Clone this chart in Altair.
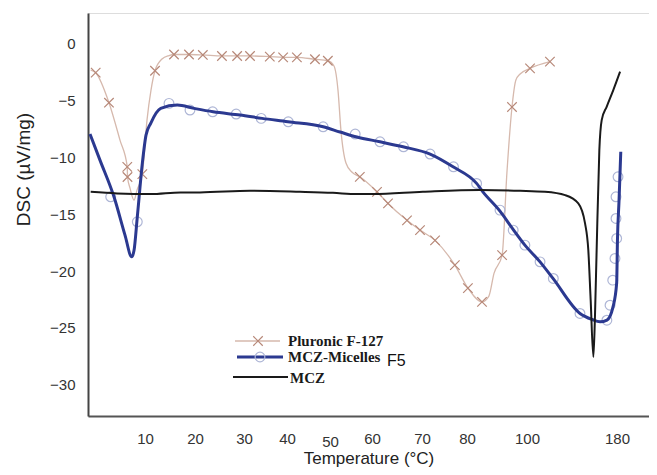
import altair as alt
import pandas as pd

# ---------------- data ----------------
# Pluronic F-127 curve (temperature, DSC) and which points carry a marker
plur_T = [0.47, 1.35, 3.68, 5.61, 6.89, 6.93, 7.37, 8.07, 8.6, 9.53, 10.4, 11.2, 12.0, 13.4, 14.8,
          15.8, 18.8, 21.6, 25.5, 28.6, 31.4, 36.0, 39.1, 42.3, 46.5, 49.5, 50.95, 51.9, 52.6,
          53.8, 55.2, 57.1, 61.0, 63.2, 67.0, 69.6, 72.9, 77.3, 80.3, 85.0, 87.3, 89.0, 91.7,
          93.3, 95.0, 96.3, 97.7, 102.7, 120.4]
plur_v = [-2.32, -2.55, -5.19, -8.48, -10.83, -11.73, -12.70, -13.76, -12.88, -11.47, -6.72,
          -4.08, -2.38, -1.35, -1.04, -0.95, -0.95, -0.99, -1.08, -1.08, -1.08, -1.14, -1.20,
          -1.20, -1.37, -1.50, -1.96, -4.08, -7.6, -10.5, -11.29, -11.71, -13.03, -14.05,
          -15.54, -16.4, -17.3, -19.48, -21.5, -22.71, -22.2, -20.2, -18.6, -11.38, -5.57,
          -3.2, -2.67, -2.17, -1.58]
plur_mark = [0, 1, 1, 0, 1, 1, 0, 0, 0, 1, 0, 0, 1, 0, 0, 1, 1, 1, 1, 1, 1, 1, 1, 1, 1, 1, 0, 0, 0,
             0, 0, 1, 1, 1, 1, 1, 1, 1, 1, 1, 0, 0, 1, 0, 1, 0, 0, 1, 1]

# MCZ-Micelles F5 curve
mic_T = [0.35, 2.1, 4.56, 6.49, 7.67, 8.07, 8.65, 9.53, 10.2, 11.14, 13.14, 16.46, 19.8, 23.7,
         29.2, 34.2, 40.2, 48.4, 52.4, 56.4, 61.6, 66.2, 71.8, 76.9, 83.2, 85.3, 91.0, 95.3,
         99.3, 111.6, 123.1, 147.1, 157.8, 164.9, 171.1, 176.4, 179.7, 180.4, 181.8, 183.3]
mic_v = [-7.95, -10.24, -13.47, -16.84, -18.75, -18.2, -15.23, -10.53, -8.04, -7.0, -5.69, -5.40,
         -5.69, -5.99, -6.28, -6.57, -6.87, -7.31, -7.77, -8.21, -8.63, -9.07, -9.71, -10.83,
         -12.29, -13.03, -14.73, -16.31, -17.72, -19.19, -20.65, -23.73, -24.26, -24.47, -24.32,
         -23.18, -21.07, -17.28, -13.76, -9.51]
# open-circle markers of the MCZ-Micelles F5 series
mic_circ_T = [3.98, 8.65, 14.8, 19.0, 23.6, 28.4, 34.0, 40.3, 48.4, 56.0, 61.6, 66.3, 71.8, 77.0,
              83.2, 91.0, 95.4, 99.3, 111.6, 123.4, 147.1, 171.0, 173.8, 176.2, 178.2, 179.7,
              179.1, 179.1, 180.9]
mic_circ_v = [-13.47, -15.67, -5.25, -5.84, -5.99, -6.19, -6.57, -6.87, -7.31, -7.95, -8.63, -9.07,
              -9.71, -10.83, -12.29, -14.64, -16.4, -17.72, -19.19, -20.65, -23.73, -24.32, -23.0,
              -20.8, -18.89, -17.13, -15.37, -13.47, -11.71]

# MCZ curve
mcz_T = [0.47, 5.09, 11.14, 17.1, 21.0, 31.4, 43.0, 50.7, 56.4, 60.2, 70.2, 84.3, 97.7, 116.0,
         133.8, 145.6, 151.6, 154.5, 156.6, 159.0, 160.4, 161.9, 164.3, 166.4, 170.8, 176.7, 182.7]
mcz_v = [-13.03, -13.17, -13.23, -13.08, -13.08, -12.94, -13.03, -13.12, -13.23, -13.23, -13.03,
         -12.88, -12.94, -13.03, -13.32, -14.05, -15.81, -18.16, -22.56, -27.55, -24.03, -18.16,
         -9.36, -6.72, -5.55, -4.08, -2.46]

x_ticks = [10, 20, 30, 40, 50, 60, 70, 80, 100, 180]
y_ticks = [-30, -25, -20, -15, -10, -5, 0]
legend_names = ["Pluronic F-127", "MCZ-Micelles", "F5", "MCZ"]

# ---------------- layout / style ----------------
W, H = 561, 403
# the printed temperature axis is not evenly spaced: piecewise-linear scale
x_scale = alt.Scale(domain=[0, 10, 20, 30, 40, 50, 60, 70, 80, 100, 180, 208],
                    range=[0, 57, 107, 156, 199, 242, 284, 334, 379, 439, 529, 561],
                    nice=False, zero=False)
y_scale = alt.Scale(domain=[-32.75, 2.7], nice=False, zero=False)

C_PLUR_LINE = "#d6b9ad"
C_PLUR_MARK = "#b78878"
C_MIC_LINE = "#2b3990"
C_MIC_CIRC = "#aeb6d6"
C_MCZ = "#1a1a1a"
CROSS = "M-1,-1L1,1M-1,1L1,-1"

plur = pd.DataFrame({"T": plur_T, "v": plur_v, "m": plur_mark})
mic = pd.DataFrame({"T": mic_T, "v": mic_v})
micc = pd.DataFrame({"T": mic_circ_T, "v": mic_circ_v})
mcz = pd.DataFrame({"T": mcz_T, "v": mcz_v})

x_axis = alt.Axis(values=x_ticks, grid=False, ticks=False, domain=True, domainColor="#555555",
                  domainWidth=2, labelFont="Liberation Sans", labelFontSize=15,
                  labelColor="#333333",
                  labelPadding={"condition": {"test": "datum.value == 50", "value": 18}, "value": 15},
                  labelFlush=False,
                  title="Temperature (°C)", titleFont="Liberation Sans", titleFontSize=17,
                  titleFontWeight="normal", titleColor="#222222",
                  titleY=47, titleBaseline="alphabetic")
y_axis = alt.Axis(values=y_ticks, grid=False, ticks=False, domain=True, domainColor="#444444",
                  domainWidth=2, labelFont="Liberation Sans", labelFontSize=15,
                  labelColor="#333333", labelPadding=13,
                  title="DSC (µV/mg)", titleFont="Liberation Sans", titleFontSize=19,
                  titleFontWeight="normal", titleColor="#222222",
                  titleX=-65, titleY=156, titleBaseline="middle")

X = alt.X("T:Q", scale=x_scale, axis=x_axis)
Y = alt.Y("v:Q", scale=y_scale, axis=y_axis)

plur_line = alt.Chart(plur).mark_line(color=C_PLUR_LINE, strokeWidth=1.3,
                                      interpolate="monotone").encode(x=X, y=Y)
plur_pts = alt.Chart(plur).transform_filter("datum.m == 1").mark_point(
    shape=CROSS, size=90, filled=False, color=C_PLUR_MARK, strokeWidth=1.2, opacity=1
).encode(x="T:Q", y="v:Q")
mic_circ = alt.Chart(micc).mark_point(shape="circle", size=95, filled=False, color=C_MIC_CIRC,
                                      strokeWidth=1.2, opacity=1).encode(x="T:Q", y="v:Q")
mic_line = alt.Chart(mic).mark_line(color=C_MIC_LINE, strokeWidth=3,
                                    interpolate="monotone").encode(x="T:Q", y="v:Q")
mcz_line = alt.Chart(mcz).mark_line(color=C_MCZ, strokeWidth=2,
                                    interpolate="monotone").encode(x="T:Q", y="v:Q")

# ---------------- legend (inside the plot) ----------------
one = pd.DataFrame({"k": [0]})
lg_rows = [(147, 192, 328, C_PLUR_LINE, 1.3), (149, 195, 344, C_MIC_LINE, 3), (145, 200, 364, C_MCZ, 2)]
lg_layers = []
for x1, x2, yy, col, sw in lg_rows:
    lg_layers.append(alt.Chart(one).mark_rule(color=col, strokeWidth=sw).encode(
        x=alt.value(x1), x2=alt.value(x2), y=alt.value(yy)))
lg_layers.append(alt.Chart(one).mark_point(shape=CROSS, size=90, filled=False, color=C_PLUR_MARK,
                                           strokeWidth=1.2, opacity=1).encode(
    x=alt.value(170), y=alt.value(328)))
lg_layers.append(alt.Chart(one).mark_point(shape="circle", size=95, filled=False, color=C_MIC_CIRC,
                                           strokeWidth=1.2, opacity=1).encode(
    x=alt.value(172), y=alt.value(344)))
lg_text = pd.DataFrame({"name": legend_names})
serif_kw = dict(font="Liberation Serif", fontSize=15, fontWeight="bold", color="#1a1a1a",
                align="left", baseline="middle")
lg_layers.append(alt.Chart(lg_text).transform_filter(f"datum.name == '{legend_names[0]}'")
                 .mark_text(**serif_kw).encode(text="name:N", x=alt.value(200), y=alt.value(328)))
lg_layers.append(alt.Chart(lg_text).transform_filter(f"datum.name == '{legend_names[1]}'")
                 .mark_text(**serif_kw).encode(text="name:N", x=alt.value(200), y=alt.value(344)))
lg_layers.append(alt.Chart(lg_text).transform_filter(f"datum.name == '{legend_names[2]}'")
                 .mark_text(font="Liberation Sans", fontSize=16, fontWeight="normal",
                            color="#111111", align="left", baseline="middle")
                 .encode(text="name:N", x=alt.value(299), y=alt.value(348)))
lg_layers.append(alt.Chart(lg_text).transform_filter(f"datum.name == '{legend_names[3]}'")
                 .mark_text(**serif_kw).encode(text="name:N", x=alt.value(202), y=alt.value(365)))

chart = alt.layer(plur_line, plur_pts, mic_circ, mic_line, mcz_line, *lg_layers).properties(
    width=W, height=H,
    autosize=alt.AutoSizeParams(type="none"),
    padding={"left": 80, "top": 5, "right": 0, "bottom": 51},
).configure_view(stroke=None).configure(background="white")

chart.save("out.html", embed_options={"renderer": "svg", "actions": False})
